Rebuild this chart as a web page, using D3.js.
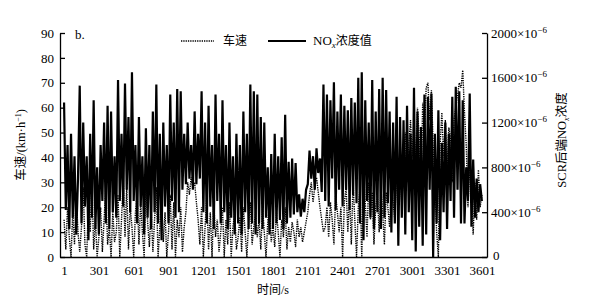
<!DOCTYPE html>
<html><head><meta charset="utf-8">
<script src="https://cdn.jsdelivr.net/npm/d3@7/dist/d3.min.js"></script>
<style>
body{margin:0;background:#fff;}
svg{display:block;}
text{font-family:"Liberation Serif","DejaVu Serif",serif;fill:#000;}
.cjk{font-family:"Noto Sans CJK SC","Noto Sans",sans-serif;}
</style></head>
<body><svg id="c" width="600" height="298"></svg>
<script>
// time step of sampled points (s), starting at 1
const timeStart = 1, timeStep = 15;
const xTicks = [1,301,601,901,1201,1501,1801,2101,2401,2701,3001,3301,3601];
const speedTicks = [0,10,20,30,40,50,60,70,80,90];
const noxTicks = [0,400,800,1200,1600,2000];

// NOx concentration (x10^-6), every 15 s
const noxValues = [
1380,420,1000,250,1100,350,900,200,700,1530,
300,1200,450,900,150,1100,350,1400,250,800,
200,1000,500,1200,300,1350,250,1300,400,900,
350,1580,500,1100,450,1550,600,1250,400,1650,
500,1000,300,1250,450,900,200,1150,350,1000,
250,1300,400,1540,300,1100,150,1200,450,1000,
300,1450,500,1200,350,1500,400,1480,600,1100,
650,1200,700,1000,600,1300,650,1100,700,1480,
400,1200,300,1350,450,1000,250,1450,500,1100,
300,1400,400,1000,250,1200,350,900,200,1100,
300,1000,200,1300,400,1100,250,1540,300,1480,
200,1450,300,1250,250,1200,350,800,200,920,
250,1100,300,900,330,1070,250,1270,300,850,
350,880,380,840,400,560,360,520,400,600,
650,950,700,900,600,970,750,880,580,1540,
500,1450,450,1400,700,1560,420,1300,600,1450,
450,1350,600,1310,420,1420,550,1380,480,1600,
300,1650,150,1400,500,1200,350,1580,250,1300,
400,1500,250,1600,350,1490,480,1300,220,1200,
300,1430,100,1250,350,1220,200,1350,400,1100,
150,1510,50,1300,270,1160,100,1450,200,1430,
600,1460,0,1100,300,1310,150,1020,400,1200,
250,1100,500,1430,350,1520,600,1480,300,1400,
300,800,500,1460,270,870,350,700,400,650,
500];

// vehicle speed (km/h), every 15 s
const speedValues = [
15,3,20,8,0,18,5,25,10,2,
12,28,5,0,22,10,30,3,15,0,
8,20,2,15,28,5,12,0,18,6,
10,25,0,15,31,8,28,3,20,12,
0,18,25,5,22,10,0,28,14,4,
20,2,15,28,0,12,25,6,18,0,
10,25,3,22,0,15,8,20,2,12,
18,30,25,32,28,30,22,15,5,20,
0,12,25,3,18,0,22,8,15,2,
10,20,0,15,5,22,0,12,18,3,
8,16,2,20,10,0,14,22,5,12,
18,8,15,3,20,10,0,14,22,6,
12,4,18,10,0,15,8,20,3,12,
6,14,10,4,15,8,12,6,10,14,
18,25,30,22,28,32,26,20,15,10,
12,20,8,22,15,5,25,18,10,20,
0,22,28,10,25,5,30,15,0,20,
28,0,34,22,8,30,15,26,5,20,
25,10,28,18,5,26,20,12,30,22,
15,35,25,45,20,40,50,30,45,55,
40,55,35,60,48,25,62,50,68,70,
55,67,45,30,10,0,45,58,40,55,
35,52,48,30,55,60,65,70,68,75,
58,45,20,37,25,9,30,15,35,20,
25];

const svg = d3.select("#c");
const L = 60, R = 487, T = 33, B = 257;
const x = d3.scaleLinear().domain([-34, 3645]).range([L, R]);
const yL = d3.scaleLinear().domain([0, 90]).range([B, T]);
const yR = d3.scaleLinear().domain([0, 2000]).range([B, T]);

const nox = noxValues.map((v,i)=>({t: timeStart + i*timeStep, v}));
const spd = speedValues.map((v,i)=>({t: timeStart + i*timeStep, v}));

svg.append("path").datum(spd)
  .attr("d", d3.line().x(d=>x(d.t)).y(d=>yL(d.v)))
  .attr("fill","none").attr("stroke","#000").attr("stroke-width",1.4)
  .attr("stroke-dasharray","1.3,1");

svg.append("path").datum(nox)
  .attr("d", d3.line().x(d=>x(d.t)).y(d=>yR(d.v)))
  .attr("fill","none").attr("stroke","#000").attr("stroke-width",2.2)
  .attr("stroke-linejoin","miter").attr("stroke-miterlimit",2);

// axes
const gL = svg.append("g").attr("transform",`translate(${L},0)`)
  .call(d3.axisLeft(yL).tickValues(speedTicks).tickSizeInner(-5).tickSizeOuter(0).tickPadding(6));
const gR = svg.append("g").attr("transform",`translate(${R},0)`)
  .call(d3.axisRight(yR).tickValues(noxTicks).tickSizeInner(-5).tickSizeOuter(0).tickPadding(4).tickFormat(()=>""));
const gB = svg.append("g").attr("transform",`translate(0,${B})`)
  .call(d3.axisBottom(x).tickValues(xTicks).tickSize(0).tickPadding(9).tickFormat(d3.format("d")));
[gL,gR,gB].forEach(g=>{
  g.selectAll("path,line").attr("stroke","#000").attr("stroke-width",1.3);
  g.selectAll("text").style("font-family",'"Liberation Serif",serif').style("font-size","13px");
});
// right labels with superscript
gR.selectAll(".tick").each(function(d){
  const t = d3.select(this).select("text").attr("x",4);
  if (d === 0) { t.text("0").attr("x",6).attr("dy","0.2em"); return; }
  t.text(null);
  t.append("tspan").text(d + "×10");
  t.append("tspan").attr("dy","-5").style("font-size","9px").text("−6");
});

// left title
svg.append("text").attr("transform","translate(25,145) rotate(-90)")
  .attr("text-anchor","middle").style("font-size","12.5px")
  .call(t=>{
    t.append("tspan").attr("class","cjk").text("车速");
    t.append("tspan").text("/(km·h");
    t.append("tspan").attr("dy","-4").style("font-size","8px").text("−1");
    t.append("tspan").attr("dy","4").text(")");
  });
// right title
svg.append("text").attr("transform","translate(566,140) rotate(-90)")
  .attr("text-anchor","middle").style("font-size","12.5px")
  .call(t=>{
    t.append("tspan").text("SCR");
    t.append("tspan").attr("class","cjk").text("后端");
    t.append("tspan").text("NO");
    t.append("tspan").attr("dy","3").style("font-size","8px").style("font-style","italic").text("x");
    t.append("tspan").attr("dy","-3").attr("class","cjk").text("浓度");
  });
// x title
svg.append("text").attr("x",273).attr("y",294).attr("text-anchor","middle").style("font-size","12px")
  .call(t=>{
    t.append("tspan").attr("class","cjk").text("时间");
    t.append("tspan").text("/s");
  });
// panel label
svg.append("text").attr("x",75).attr("y",39).style("font-size","13px").text("b.");

// legend
svg.append("line").attr("x1",181).attr("x2",214).attr("y1",41).attr("y2",41)
  .attr("stroke","#000").attr("stroke-width",1.3).attr("stroke-dasharray","1.3,1");
svg.append("text").attr("x",223).attr("y",45).attr("class","cjk").style("font-size","12px").text("车速");
svg.append("line").attr("x1",268).attr("x2",306).attr("y1",41).attr("y2",41)
  .attr("stroke","#000").attr("stroke-width",1.8);
svg.append("text").attr("x",313).attr("y",45).style("font-size","13px")
  .call(t=>{
    t.append("tspan").text("NO");
    t.append("tspan").attr("dy","3").style("font-size","9px").style("font-style","italic").text("x");
    t.append("tspan").attr("dy","-3").attr("class","cjk").style("font-size","12px").text("浓度值");
  });
</script></body></html>
